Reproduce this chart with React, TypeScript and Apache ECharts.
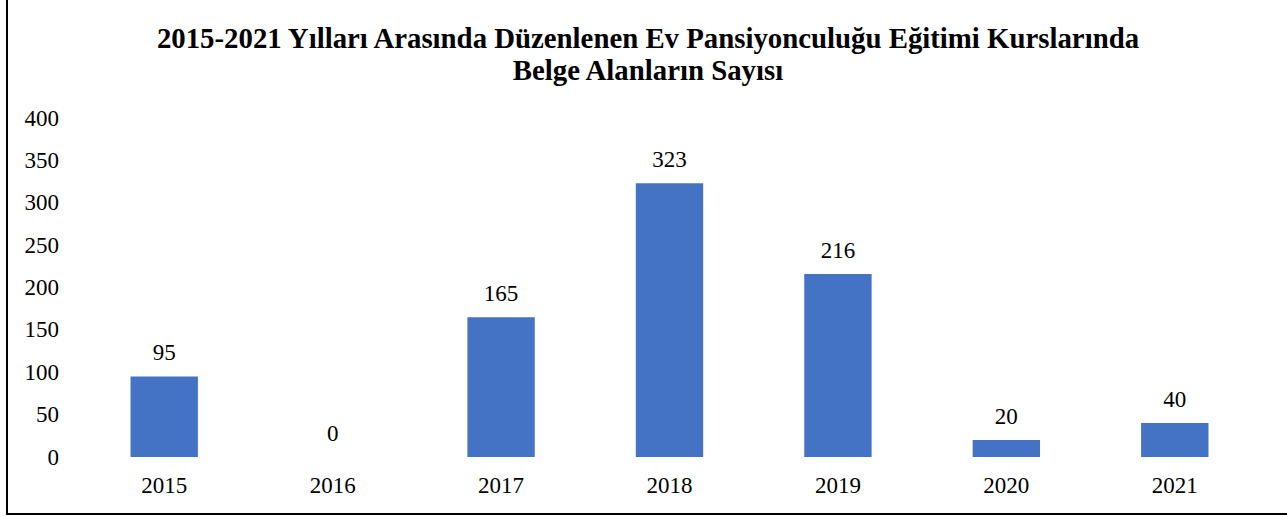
import React, { useEffect, useRef } from "react";
import * as echarts from "echarts";

const titleText = "2015-2021 Yılları Arasında Düzenlenen Ev Pansiyonculuğu Eğitimi Kurslarında\nBelge Alanların Sayısı";
const categories = ["2015", "2016", "2017", "2018", "2019", "2020", "2021"];
const values = [95, 0, 165, 323, 216, 20, 40];
const yTicks = [0, 50, 100, 150, 200, 250, 300, 350, 400];

const FONT = "'Liberation Serif', 'Times New Roman', serif";

export default function App() {
  const ref = useRef<HTMLDivElement>(null);
  useEffect(() => {
    document.body.style.margin = "0";
    const chart = echarts.init(ref.current!, null, { renderer: "svg" });
    chart.setOption({
      animation: false,
      backgroundColor: "#ffffff",
      title: {
        text: titleText,
        left: 643,
        textAlign: "center",
        top: 17,
        textStyle: {
          fontFamily: FONT,
          fontWeight: "bold",
          fontSize: 28.8,
          lineHeight: 32,
          color: "#000000",
        },
      },
      graphic: [
        {
          type: "rect",
          shape: { x: 7, y: -10, width: 1300, height: 524 },
          style: { fill: "none", stroke: "#000000", lineWidth: 2 },
          silent: true,
        },
      ],
      grid: { left: 80, right: 28, top: 118, bottom: 60, containLabel: false },
      xAxis: {
        type: "category",
        data: categories,
        axisLine: { show: false },
        axisTick: { show: false },
        axisLabel: {
          margin: 17,
          fontFamily: FONT,
          fontSize: 23,
          color: "#000000",
        },
      },
      yAxis: {
        type: "value",
        min: yTicks[0],
        max: yTicks[yTicks.length - 1],
        interval: 50,
        splitLine: { show: false },
        axisLine: { show: false },
        axisTick: { show: false },
        axisLabel: {
          margin: 21,
          fontFamily: FONT,
          fontSize: 23,
          color: "#000000",
        },
      },
      series: [
        {
          type: "bar",
          data: values,
          barWidth: "40%",
          itemStyle: { color: "#4472C4" },
          label: {
            show: true,
            position: "top",
            distance: 12,
            fontFamily: FONT,
            fontSize: 23,
            color: "#000000",
          },
        },
      ],
    });
    return () => chart.dispose();
  }, []);
  return (
    <div
      ref={ref}
      style={{ position: "absolute", left: 0, top: 0, width: 1287, height: 517 }}
    />
  );
}
